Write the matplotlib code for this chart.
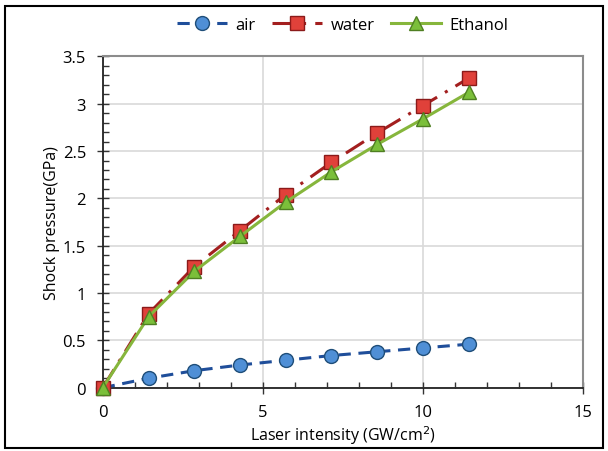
import matplotlib.pyplot as plt
import numpy as np
from matplotlib.ticker import MultipleLocator
from matplotlib.patches import Rectangle

plt.rcParams['font.family'] = ['Open Sans', 'DejaVu Sans']

# laser intensity (GW/cm^2)
intensity = [0, 1.43, 2.86, 4.29, 5.71, 7.14, 8.57, 10.0, 11.43]
# shock pressure (GPa)
p_air = [0, 0.10, 0.18, 0.24, 0.29, 0.34, 0.38, 0.42, 0.46]
p_water = [0, 0.78, 1.28, 1.66, 2.04, 2.38, 2.69, 2.98, 3.27]
p_ethanol = [0, 0.75, 1.23, 1.60, 1.96, 2.28, 2.57, 2.84, 3.12]

fig = plt.figure(figsize=(6.08, 4.52), dpi=100)
ax = fig.add_axes([0.169, 0.14, 0.79, 0.733])

ax.plot(intensity, p_air, color='#1f4e9a', linestyle=(0, (4, 2.5)), lw=2.2,
        marker='o', ms=10, mfc='#4f8fd6', mec='#1f4e79', mew=1, label='air',
        zorder=3, clip_on=False)
ax.plot(intensity, p_water, color='#a31f1f', linestyle=(0, (7, 3, 1, 3)), lw=2.2,
        marker='s', ms=10, mfc='#e0413a', mec='#8b1a1a', mew=1, label='water',
        zorder=4, clip_on=False)
ax.plot(intensity, p_ethanol, color='#86b63c', linestyle='-', lw=2.2,
        marker='^', ms=10, mfc='#7bbf3a', mec='#4f7f22', mew=1, label='Ethanol',
        zorder=5, clip_on=False)

ax.set_xlim(0, 15)
ax.set_ylim(0, 3.5)
ax.xaxis.set_major_locator(MultipleLocator(5))
ax.xaxis.set_minor_locator(MultipleLocator(1))
ax.yaxis.set_major_locator(MultipleLocator(0.5))
ax.yaxis.set_minor_locator(MultipleLocator(0.1))
ax.set_yticks(np.arange(0, 3.51, 0.5))
ax.set_yticklabels(['0', '0.5', '1', '1.5', '2', '2.5', '3', '3.5'])
ax.tick_params(which='major', direction='inout', length=8, width=1, labelsize=12, color='#333333')
ax.tick_params(which='minor', direction='in', length=4, width=1, color='#333333')
ax.tick_params(axis='x', pad=8)
ax.tick_params(axis='y', pad=8)

ax.grid(True, which='major', color='#d9d9d9', lw=1.2)
ax.set_axisbelow(True)
for s in ['top', 'right']:
    ax.spines[s].set_color('#8c8c8c')
    ax.spines[s].set_linewidth(1.5)
for s in ['left', 'bottom']:
    ax.spines[s].set_color('#222222')
    ax.spines[s].set_linewidth(1.3)

ax.set_xlabel('Laser intensity (GW/cm$^2$)', fontsize=11.5, labelpad=2)
ax.set_ylabel('Shock pressure(GPa)', fontsize=11.5, labelpad=2)

ax.legend(loc='lower center', bbox_to_anchor=(0.5, 1.025), ncol=3, frameon=False,
          fontsize=12, handlelength=3, columnspacing=1.0, handletextpad=0.5)

# thin frame round the whole figure
fig.patches.append(Rectangle((0.009, 0.007), 0.982, 0.978, transform=fig.transFigure,
                             fill=False, ec='black', lw=1.5))

fig.savefig('out.png', dpi=100)
